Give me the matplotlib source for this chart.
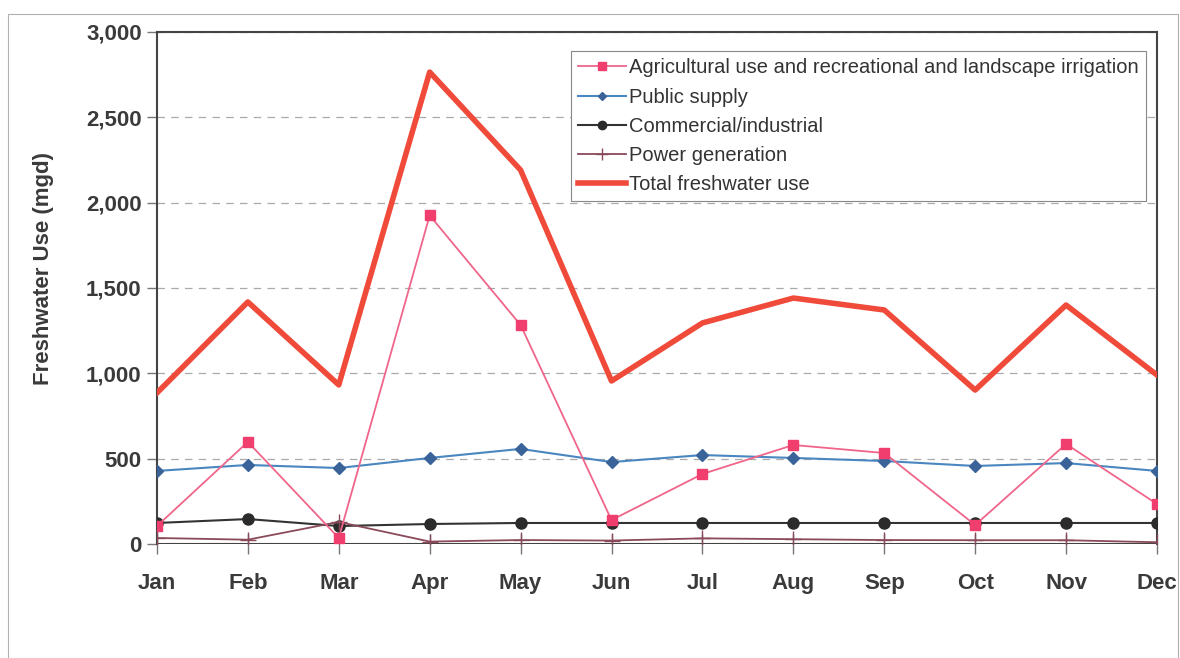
import matplotlib.pyplot as plt
from matplotlib.patches import Rectangle
from matplotlib.ticker import FuncFormatter

plt.rcParams['font.family'] = ['Liberation Sans', 'DejaVu Sans']

months = ["Jan", "Feb", "Mar", "Apr", "May", "Jun", "Jul", "Aug", "Sep", "Oct", "Nov", "Dec"]

agricultural = [105, 598, 35, 1925, 1283, 140, 410, 580, 533, 111, 586, 234]
public_supply = [428, 463, 445, 504, 557, 480, 521, 504, 486, 457, 474, 428]
commercial = [123, 146, 105, 117, 123, 123, 123, 123, 123, 123, 123, 123]
power_gen = [35, 25, 129, 14, 23, 20, 33, 28, 23, 22, 22, 10]
total = [885, 1418, 932, 2765, 2191, 955, 1295, 1441, 1371, 902, 1400, 990]

labels = ["Agricultural use and recreational and landscape irrigation",
          "Public supply",
          "Commercial/industrial",
          "Power generation",
          "Total freshwater use"]

x = list(range(len(months)))

fig = plt.figure(figsize=(11.8, 6.58), dpi=100)
ax = fig.add_axes([0.133, 0.1733, 0.8475, 0.7781])

# outer frame of the chart area
fig.patches.append(Rectangle((8 / 1180, -0.05), 1170 / 1180, 1.05 - 14 / 658,
                             transform=fig.transFigure, fill=False,
                             edgecolor="#b0b0b0", lw=0.8))

ax.plot(x, agricultural, color="#f0658a", lw=1.3, marker="s", ms=7,
        mfc="#f03e6e", mec="#f03e6e", label=labels[0], zorder=4)
ax.plot(x, public_supply, color="#4a86c0", lw=1.5, marker="D", ms=6,
        mfc="#3a6499", mec="#3a6499", label=labels[1], zorder=3)
ax.plot(x, commercial, color="#333333", lw=1.5, marker="o", ms=8,
        mfc="#2b2b2b", mec="#2b2b2b", label=labels[2], zorder=3)
ax.plot(x, power_gen, color="#8a4a5a", lw=1.3, marker="+", ms=11, mew=1.0,
        label=labels[3], zorder=3)
ax.plot(x, total, color="#f04a3a", lw=4.0, label=labels[4], zorder=5)

ax.set_xlim(0, 11)
ax.set_ylim(0, 3000)
ax.set_yticks(range(0, 3001, 500))
ax.yaxis.set_major_formatter(FuncFormatter(lambda v, p: f"{int(v):,}"))
ax.set_xticks(x)
ax.set_xticklabels(months)

ax.grid(axis="y", color="#aaaaaa", linestyle=(0, (6, 5)), lw=0.9)
ax.set_axisbelow(True)
ax.axhline(0, color="#444444", lw=1.5, zorder=2)

for side in ["left", "top", "right"]:
    ax.spines[side].set_color("#444444")
    ax.spines[side].set_linewidth(1.5)
ax.spines["bottom"].set_visible(False)

ax.tick_params(axis="x", direction="inout", length=14, width=1.0, color="#777777",
               pad=14, labelsize=16, labelcolor="#3a3a3a")
ax.tick_params(axis="y", direction="out", length=7, width=1.0, color="#777777",
               pad=4, labelsize=16, labelcolor="#3a3a3a")
for lbl in ax.get_xticklabels() + ax.get_yticklabels():
    lbl.set_fontweight("bold")

ax.set_ylabel("Freshwater Use (mgd)", fontsize=16, fontweight="bold",
              color="#3a3a3a", va="center")
ax.yaxis.set_label_coords(-0.113, 0.539)

leg = ax.legend(loc="upper right", bbox_to_anchor=(0.989, 0.962), fontsize=14.5,
                frameon=True, fancybox=False, edgecolor="#888888", framealpha=1,
                handlelength=2.4, handletextpad=0.15, labelspacing=0.5,
                borderpad=0.35, borderaxespad=0, markerscale=0.75)
leg.get_frame().set_linewidth(0.8)
for t in leg.get_texts():
    t.set_color("#333333")

fig.savefig("out.png", dpi=100)
